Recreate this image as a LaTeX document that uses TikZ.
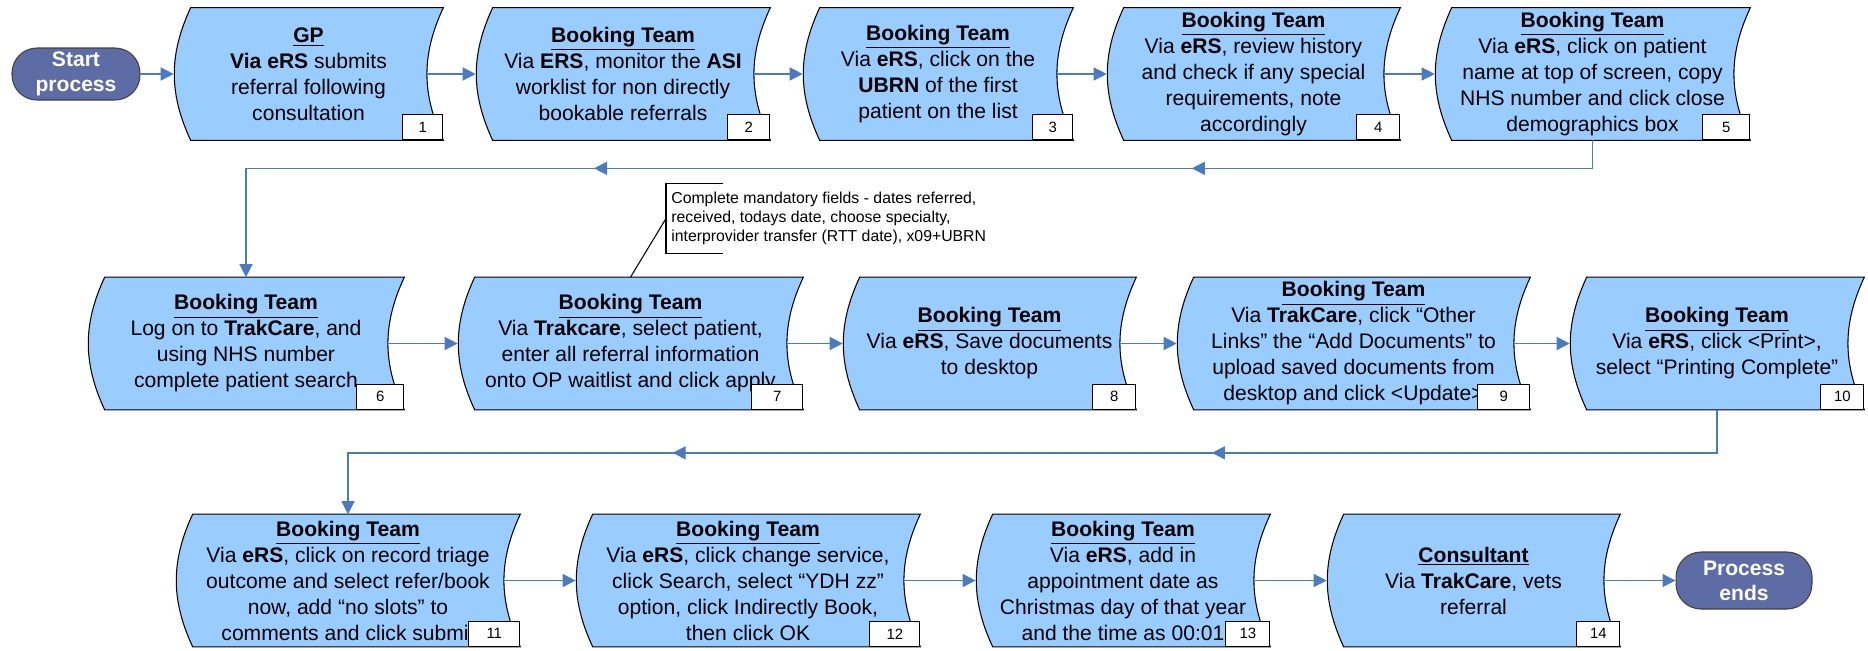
\documentclass[tikz,border=0pt]{standalone}
\usepackage{fontspec}
\setmainfont{Liberation Sans}
\usetikzlibrary{arrows.meta, calc, decorations.markings}

\definecolor{boxblue}{RGB}{153,204,255}
\definecolor{termblue}{RGB}{94,108,166}
\definecolor{linkblue}{RGB}{74,122,192}

\pgfdeclarelayer{bg}
\pgfsetlayers{bg,main}

\tikzset{
    stepbox/.style={inner sep=0pt, align=center, minimum height=2.64cm,
        font=\fontsize{12}{14.8}\selectfont},
    numbox/.style={draw, fill=white, anchor=south east, minimum height=0.5cm,
        inner sep=0pt, line width=0.6pt, font=\fontsize{8.5}{10}\selectfont},
    term/.style={draw=black!75, fill=termblue, rounded corners=0.5cm, text=white,
        align=center, inner sep=0pt, line width=0.6pt,
        font=\fontsize{12}{14.2}\selectfont\bfseries},
    flow/.style={draw=linkblue, line width=0.8pt, -{Triangle[length=7.4pt,width=7.4pt]}},
    next/.style={flow, shorten <=-0.32cm},
    back/.style={flow, postaction={decorate}},
    note/.style={anchor=west, align=left, inner xsep=0.1cm, inner ysep=0pt,
        minimum height=1.38cm, font=\fontsize{9}{10.8}\selectfont},
}
\newcommand{\ttl}[1]{\underline{\textbf{#1}}}

\begin{document}
\begin{tikzpicture}[x=0.02cm, y=-0.02cm]
    \useasboundingbox (0,0) rectangle (1868,650);

    % terminals
    \node[term, minimum width=2.56cm, minimum height=1.04cm] (start) at (76,74) {Start\\process};
    \node[term, minimum width=2.72cm, minimum height=1.14cm] (end) at (1744,580.5) {Process\\ends};

    % row 1
    \node[stepbox, minimum width=5.38cm] (s1) at (308.5,74) {\ttl{GP}\\\textbf{Via eRS} submits\\referral following\\consultation};
    \node[stepbox, minimum width=5.88cm] (s2) at (623,74) {\ttl{Booking Team}\\Via \textbf{ERS}, monitor the \textbf{ASI}\\worklist for non directly\\bookable referrals};
    \node[stepbox, minimum width=5.40cm] (s3) at (938,74) {\ttl{Booking Team}\\Via \textbf{eRS}, click on the\\\textbf{UBRN} of the first\\patient on the list};
    \node[stepbox, minimum width=5.86cm] (s4) at (1253.5,74) {\ttl{Booking Team}\\Via \textbf{eRS}, review history\\and check if any special\\requirements, note\\accordingly};
    \node[stepbox, minimum width=6.30cm] (s5) at (1592.5,74) {\ttl{Booking Team}\\Via \textbf{eRS}, click on patient\\name at top of screen, copy\\NHS number and click close\\demographics box};

    % row 2
    \node[stepbox, minimum width=6.32cm] (s6) at (246,343.5) {\ttl{Booking Team}\\Log on to \textbf{TrakCare}, and\\using NHS number\\complete patient search};
    \node[stepbox, minimum width=6.90cm] (s7) at (630.5,343.5) {\ttl{Booking Team}\\Via \textbf{Trakcare}, select patient,\\enter all referral information\\onto OP waitlist and click apply};
    \node[stepbox, minimum width=5.86cm] (s8) at (989.5,343.5) {\ttl{Booking Team}\\Via \textbf{eRS}, Save documents\\to desktop};
    \node[stepbox, minimum width=7.06cm] (s9) at (1353.5,343.5) {\ttl{Booking Team}\\Via \textbf{TrakCare}, click “Other\\Links” the “Add Documents” to\\upload saved documents from\\desktop and click <Update>};
    \node[stepbox, minimum width=5.88cm] (s10) at (1717,343.5) {\ttl{Booking Team}\\Via \textbf{eRS}, click <Print>,\\select “Printing Complete”};

    % row 3
    \node[stepbox, minimum width=6.88cm] (s11) at (348,580.5) {\ttl{Booking Team}\\Via \textbf{eRS}, click on record triage\\outcome and select refer/book\\now, add “no slots” to\\comments and click submit};
    \node[stepbox, minimum width=6.88cm] (s12) at (748,580.5) {\ttl{Booking Team}\\Via \textbf{eRS}, click change service,\\click Search, select “YDH zz”\\option, click Indirectly Book,\\then click OK};
    \node[stepbox, minimum width=5.88cm] (s13) at (1123,580.5) {\ttl{Booking Team}\\Via \textbf{eRS}, add in\\appointment date as\\Christmas day of that year\\and the time as 00:01};
    \node[stepbox, minimum width=5.86cm] (s14) at (1473.5,580.5) {\ttl{Consultant}\\Via \textbf{TrakCare}, vets\\referral};

    % stored data outlines behind the text
    \begin{pgfonlayer}{bg}
        \foreach \i in {1,...,14}
            \draw[fill=boxblue, line width=0.6pt]
                ($(s\i.north west)+(17,0)$) -- (s\i.north east)
                to[bend right=25] (s\i.south east)
                -- ($(s\i.south west)+(17,0)$)
                to[bend left=25] ($(s\i.north west)+(17,0)$) -- cycle;
    \end{pgfonlayer}

    % step numbers
    \foreach \i/\w in {1/0.80, 2/0.84, 3/0.80, 4/0.86, 5/0.94, 6/0.94, 7/1.02,
                       8/0.86, 9/1.04, 10/0.86, 11/1.02, 12/1.00, 13/0.88, 14/0.86}
        \node[numbox, minimum width=\w cm] (n\i) at (s\i.south east) {\i};

    % note on step 7
    \node[note] (note) at (666,218.5) {Complete mandatory fields - dates referred,\\received, todays date, choose specialty,\\interprovider transfer (RTT date), x09+UBRN};
    \draw[line width=0.6pt] ($(note.north west)+(57,0)$) -- (note.north west) -- (note.south west) -- ++(57,0);
    \draw[line width=0.6pt] (note.west) -- (s7.north);

    % arrows
    \draw[flow] (start.east) -- (s1.west);
    \draw[next] (s1.east) -- (s2.west);
    \draw[next] (s2.east) -- (s3.west);
    \draw[next] (s3.east) -- (s4.west);
    \draw[next] (s4.east) -- (s5.west);
    \draw[next] (s6.east) -- (s7.west);
    \draw[next] (s7.east) -- (s8.west);
    \draw[next] (s8.east) -- (s9.west);
    \draw[next] (s9.east) -- (s10.west);
    \draw[next] (s11.east) -- (s12.west);
    \draw[next] (s12.east) -- (s13.west);
    \draw[next] (s13.east) -- (s14.west);
    \draw[next] (s14.east) -- (end.west);

    \draw[back, decoration={markings,
            mark=at position 0.289 with {\arrow{Triangle[length=7.4pt,width=7.4pt]}},
            mark=at position 0.692 with {\arrow{Triangle[length=7.4pt,width=7.4pt]}}}]
        (s5.south) -- ++(0,28) -| (s6.north);
    \draw[back, decoration={markings,
            mark=at position 0.372 with {\arrow{Triangle[length=7.4pt,width=7.4pt]}},
            mark=at position 0.738 with {\arrow{Triangle[length=7.4pt,width=7.4pt]}}}]
        (s10.south) -- ++(0,43) -| (s11.north);
\end{tikzpicture}
\end{document}
